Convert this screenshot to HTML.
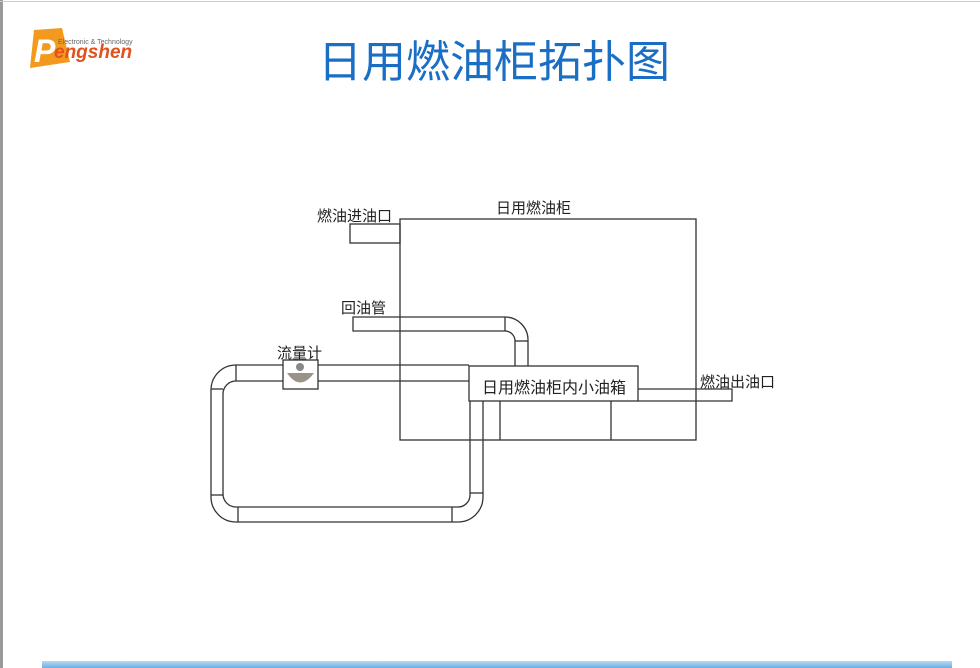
<!DOCTYPE html>
<html><head><meta charset="utf-8"><style>
body{margin:0;width:980px;height:668px;overflow:hidden;background:#fff;position:relative;font-family:"Liberation Sans","Noto Sans CJK SC",sans-serif}
.t{position:absolute;font-size:15px;color:#222;white-space:nowrap}
</style></head><body>
<div style="position:absolute;left:0;top:0;width:3px;height:668px;background:#999"></div>
<div style="position:absolute;left:0;top:1px;width:980px;height:1px;background:#ccc"></div>
<div style="position:absolute;left:318px;top:26px;font-size:44px;color:#1a6fc4;white-space:nowrap">日用燃油柜拓扑图</div>
<div style="position:absolute;left:42px;top:661px;width:910px;height:7px;background:linear-gradient(#b8daf3,#6aaee0)"></div>
<svg width="980" height="668" style="position:absolute;left:0;top:0">
<path d="M34 30 L62 28 L70 62 L30 68 Z" fill="#f39a1e"/>
<text x="34" y="62" font-family="Liberation Sans" font-weight="bold" font-style="italic" font-size="32" fill="#fff">P</text>
<text x="58" y="44" font-family="Liberation Sans" font-size="7" fill="#666">Electronic &amp; Technology</text>
<text x="54" y="58" font-family="Liberation Sans" font-weight="bold" font-style="italic" font-size="19" fill="#e2501c">engshen</text>
<g fill="none" stroke="#333" stroke-width="1.3">
<rect x="400" y="219" width="296" height="221"/>
<line x1="500" y1="401" x2="500" y2="440"/>
<line x1="611" y1="401" x2="611" y2="440"/>
<rect x="350" y="224" width="50" height="19"/>
<path d="M505 317 H353 V331 H505"/>
<path d="M505 317 A23 23 0 0 1 528 340 V366"/>
<path d="M505 331 A10 10 0 0 1 515 341 V366"/>
<line x1="515" y1="341" x2="528" y2="341"/>
<line x1="505" y1="317" x2="505" y2="331"/>
<path d="M638 389 H732 V401 H638"/>
<path d="M469 365 H236 A25 25 0 0 0 211 390 V497 A25 25 0 0 0 236 522 H458 A25 25 0 0 0 483 497 V401"/>
<path d="M469 381 H236 A13 13 0 0 0 223 394 V494 A13 13 0 0 0 236 507 H458 A12 12 0 0 0 470 495 V401"/>
<line x1="236" y1="365" x2="236" y2="381"/>
<line x1="211" y1="389" x2="223" y2="389"/>
<line x1="211" y1="495" x2="223" y2="495"/>
<line x1="238" y1="507" x2="238" y2="522"/>
<line x1="452" y1="507" x2="452" y2="522"/>
<line x1="470" y1="493" x2="483" y2="493"/>
<rect x="469" y="366" width="169" height="35" fill="#fff"/>
<rect x="283" y="360" width="35" height="29" fill="#fff"/>
</g>
<path d="M287 373 Q300 392 314 373 Z" fill="#9a9488"/>
<circle cx="300" cy="367" r="4" fill="#888"/>
</svg>
<div class="t" style="left:317px;top:205px">燃油进油口</div>
<div class="t" style="left:496px;top:197px">日用燃油柜</div>
<div class="t" style="left:341px;top:297px">回油管</div>
<div class="t" style="left:277px;top:342px">流量计</div>
<div class="t" style="left:482px;top:374px;font-size:16px">日用燃油柜内小油箱</div>
<div class="t" style="left:700px;top:371px">燃油出油口</div>
</body></html>
